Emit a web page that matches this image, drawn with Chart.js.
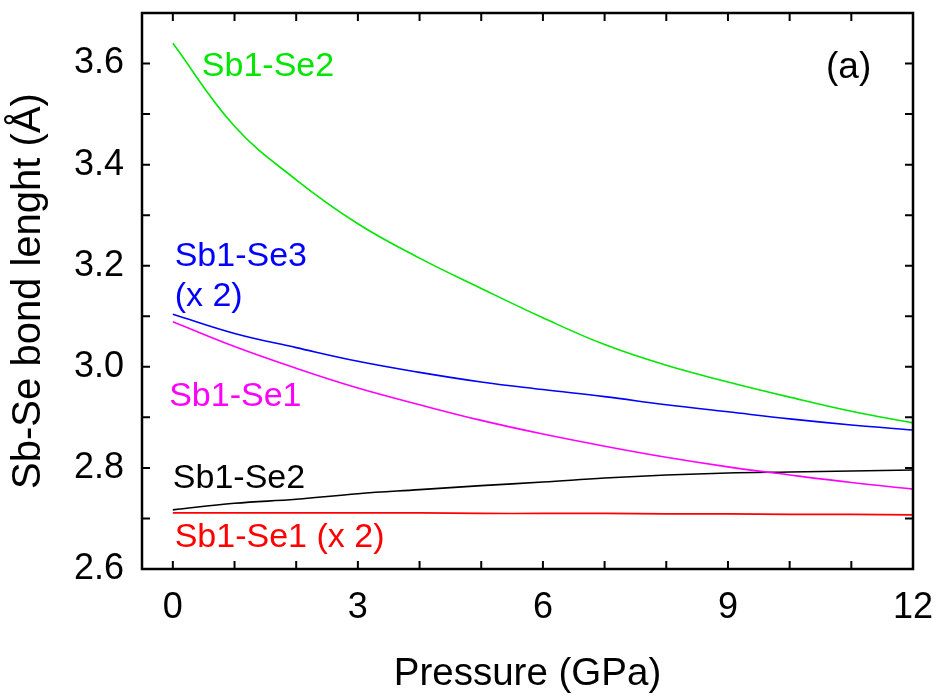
<!DOCTYPE html>
<html>
<head>
<meta charset="utf-8">
<script src="https://cdn.jsdelivr.net/npm/chart.js@4.4.1/dist/chart.umd.min.js"></script>
<style>
html,body{margin:0;padding:0;background:#fff;}
canvas{display:block;}
</style>
</head>
<body>
<canvas id="c" width="939" height="697"></canvas>
<script>
// ---- data ----
const pressure = [0,1,2,3,4,5,6,7,8,9,10,11,12];
const sb1Se2_green  = [3.640,3.476,3.370,3.283,3.215,3.155,3.097,3.044,3.003,2.970,2.940,2.912,2.889];
const sb1Se3_blue   = [3.104,3.066,3.038,3.011,2.989,2.970,2.955,2.941,2.925,2.911,2.897,2.885,2.875];
const sb1Se1_magenta= [3.089,3.040,2.997,2.958,2.925,2.894,2.867,2.843,2.821,2.802,2.786,2.771,2.758];
const sb1Se2_black  = [2.717,2.730,2.738,2.749,2.757,2.765,2.772,2.780,2.786,2.790,2.792,2.794,2.796];
const sb1Se1_red    = [2.711,2.711,2.711,2.711,2.711,2.710,2.710,2.710,2.709,2.709,2.708,2.708,2.707];
const xTickLabels = [0,3,6,9,12];
const yTickLabels = [2.6,2.8,3.0,3.2,3.4,3.6];
const xMinorTicks = [0,1,2,3,4,5,6,7,8,9,10,11,12];
const yMinorTicks = [2.6,2.7,2.8,2.9,3.0,3.1,3.2,3.3,3.4,3.5,3.6,3.7];
// annotation labels: [text, x (GPa), y (Å), colour, font size]
const labels = [
  ["Sb1-Se2", 0.47, 3.575, "#00E600", 34],
  ["Sb1-Se3", 0.03, 3.199, "#0000FF", 34],
  ["(x 2)",   0.03, 3.120, "#0000FF", 34],
  ["Sb1-Se1", -0.06, 2.922, "#FF00FF", 34],
  ["Sb1-Se2", 0.00, 2.760, "#000000", 34],
  ["Sb1-Se1 (x 2)", 0.03, 2.6435, "#FF0000", 34],
  ["(a)", 10.59, 3.571, "#000000", 37]
];

const FONT = "'Liberation Sans', Arial, Helvetica, sans-serif";

function pts(ys){ return pressure.map((p,i)=>({x:p,y:ys[i]})); }
function ds(ys,color){
  return {data:pts(ys), borderColor:color, borderWidth:1.6, pointRadius:0,
          fill:false, tension:0.4, showLine:true};
}
function noPad(s){ s.paddingTop=0; s.paddingBottom=0; s.paddingLeft=0; s.paddingRight=0; }

const framePlugin = {
  id:'frame',
  afterDatasetsDraw(chart){
    const ctx = chart.ctx, a = chart.chartArea;
    const xs = chart.scales.x, ys = chart.scales.y;
    ctx.save();
    ctx.strokeStyle = '#000';
    ctx.lineWidth = 2;
    const tl = 8;
    ctx.beginPath();
    xMinorTicks.forEach(v=>{
      const px = xs.getPixelForValue(v);
      ctx.moveTo(px, a.bottom); ctx.lineTo(px, a.bottom - tl);
      ctx.moveTo(px, a.top); ctx.lineTo(px, a.top + tl);
    });
    yMinorTicks.forEach(v=>{
      const py = ys.getPixelForValue(v);
      ctx.moveTo(a.left, py); ctx.lineTo(a.left + tl, py);
      ctx.moveTo(a.right, py); ctx.lineTo(a.right - tl, py);
    });
    ctx.stroke();
    ctx.lineWidth = 2.5;
    ctx.strokeRect(a.left, a.top, a.right - a.left, a.bottom - a.top);
    ctx.textBaseline = 'alphabetic';
    ctx.textAlign = 'left';
    labels.forEach(([t,x,y,c,fs])=>{
      ctx.font = fs + "px " + FONT;
      ctx.fillStyle = c;
      ctx.fillText(t, xs.getPixelForValue(x), ys.getPixelForValue(y));
    });
    ctx.restore();
  }
};

new Chart(document.getElementById('c'), {
  type:'scatter',
  data:{datasets:[
    ds(sb1Se2_green,'#00E600'),
    ds(sb1Se3_blue,'#0000FF'),
    ds(sb1Se1_magenta,'#FF00FF'),
    ds(sb1Se2_black,'#000000'),
    ds(sb1Se1_red,'#FF0000')
  ]},
  options:{
    responsive:false, animation:false, devicePixelRatio:1,
    layout:{padding:{top:13,right:26,left:0,bottom:0}},
    plugins:{legend:{display:false}, tooltip:{enabled:false}},
    scales:{
      x:{type:'linear', min:-0.5, max:12,
        afterBuildTicks(s){ s.ticks = xTickLabels.map(v=>({value:v})); },
        afterFit(s){ s.height = 128; noPad(s); },
        grid:{display:false, drawTicks:false}, border:{display:false},
        ticks:{padding:17, color:'#000', font:{family:FONT,size:36}, maxRotation:0,
               callback:v=>String(v)},
        title:{display:true, text:'Pressure (GPa)', color:'#000',
               font:{family:FONT,size:38.5}, padding:{top:0,bottom:0}}
      },
      y:{type:'linear', min:2.6, max:3.7,
        afterBuildTicks(s){ s.ticks = yTickLabels.map(v=>({value:v})); },
        afterFit(s){ s.width = 142; noPad(s); },
        grid:{display:false, drawTicks:false}, border:{display:false},
        ticks:{padding:18, color:'#000', font:{family:FONT,size:36},
               callback:v=>Number(v).toFixed(1)},
        title:{display:true, text:'Sb-Se bond lenght (Å)', color:'#000',
               font:{family:FONT,size:40}, padding:{top:5,bottom:0}}
      }
    }
  },
  plugins:[framePlugin]
});
</script>
</body>
</html>
